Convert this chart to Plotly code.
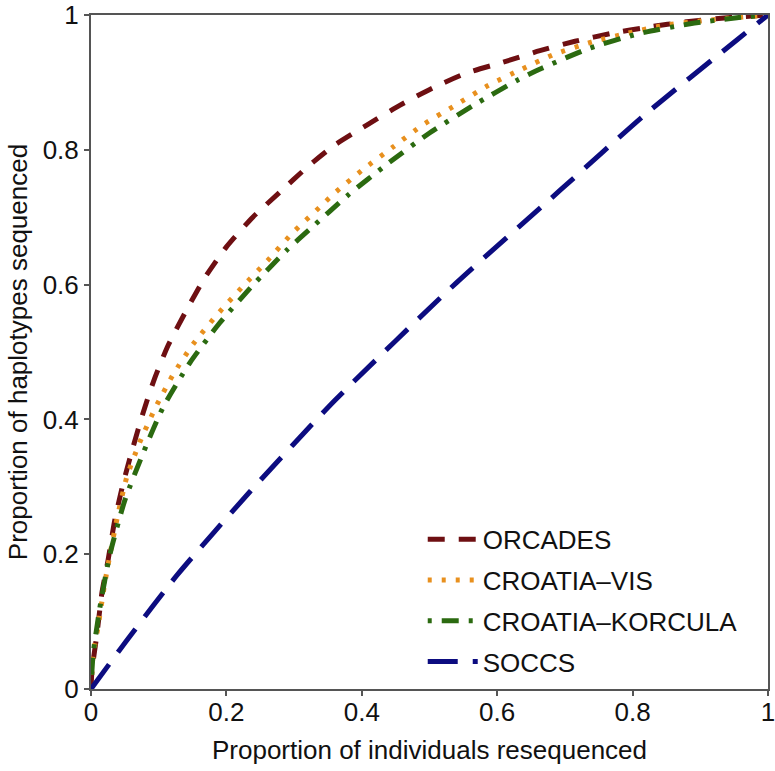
import plotly.graph_objects as go

# ORCADES
orc_x = [0, 0.0015, 0.009, 0.016, 0.025, 0.035, 0.047, 0.061, 0.077, 0.094, 0.114, 0.141, 0.168, 0.20, 0.239,
         0.28, 0.319, 0.36, 0.408, 0.456, 0.505, 0.555, 0.609, 0.663, 0.715, 0.77, 0.823, 0.88, 0.94, 1.0]
orc_y = [0, 0.028, 0.083, 0.142, 0.19, 0.25, 0.303, 0.355, 0.41, 0.461, 0.51, 0.562, 0.61, 0.656, 0.70,
         0.738, 0.774, 0.807, 0.837, 0.866, 0.892, 0.914, 0.930, 0.947, 0.961, 0.973, 0.982, 0.99, 0.996, 1.0]

# CROATIA-VIS
vis_x = [0, 0.003, 0.01, 0.02, 0.03, 0.04, 0.053, 0.072, 0.095, 0.121, 0.151, 0.186, 0.223, 0.261, 0.298,
         0.338, 0.36, 0.402, 0.446, 0.49, 0.538, 0.586, 0.637, 0.685, 0.74, 0.793, 0.848, 0.9, 0.95, 1.0]
vis_y = [0, 0.05, 0.09, 0.155, 0.21, 0.26, 0.315, 0.366, 0.417, 0.466, 0.512, 0.555, 0.596, 0.636, 0.677,
         0.715, 0.736, 0.771, 0.804, 0.837, 0.866, 0.895, 0.92, 0.942, 0.96, 0.973, 0.985, 0.991, 0.996, 1.0]

# CROATIA-KORCULA
kor_x = [0, 0.003, 0.013, 0.028, 0.05, 0.077, 0.106, 0.146, 0.19, 0.239, 0.289, 0.323, 0.38, 0.439, 0.5,
         0.565, 0.631, 0.666, 0.737, 0.808, 0.885, 0.954, 1.0]
kor_y = [0, 0.05, 0.12, 0.20, 0.28, 0.35, 0.417, 0.484, 0.543, 0.599, 0.651, 0.682, 0.733, 0.78, 0.825,
         0.866, 0.904, 0.921, 0.951, 0.972, 0.987, 0.996, 1.0]

# SOCCS
soc_x = [0, 0.055, 0.128, 0.235, 0.36, 0.54, 0.693, 0.818, 0.954, 1.0]
soc_y = [0, 0.075, 0.17, 0.293, 0.428, 0.603, 0.74, 0.852, 0.963, 1.0]

tick_vals = [0, 0.2, 0.4, 0.6, 0.8, 1]
tick_text = ["0", "0.2", "0.4", "0.6", "0.8", "1"]

series = [
    ("ORCADES", orc_x, orc_y, "#6e0f12", "17px,14px"),
    ("CROATIA\u2013VIS", vis_x, vis_y, "#e8901e", "4px,10px"),
    ("CROATIA\u2013KORCULA", kor_x, kor_y, "#2b6a10", "4px,10px,17px,10px"),
    ("SOCCS", soc_x, soc_y, "#0c0c80", "30px,15px"),
]

fig = go.Figure()
for i, (name, xs, ys, col, dash) in enumerate(series):
    fig.add_trace(go.Scatter(x=xs, y=ys, mode="lines", name=name, legendgroup=str(i),
                             line=dict(color=col, width=5, dash=dash, shape="spline", smoothing=0.6)))

axis_common = dict(range=[0, 1], tickvals=tick_vals, ticktext=tick_text, showgrid=False, zeroline=False,
                   showline=True, linecolor="#555555", linewidth=2, mirror=True,
                   ticks="outside", ticklen=5, tickwidth=2, tickcolor="#555555",
                   tickfont=dict(size=26, color="#111111"), automargin=False,
                   ticklabeloverflow="allow")

fig.update_layout(
    width=775, height=771,
    margin=dict(l=91, r=7, t=15, b=82),
    paper_bgcolor="white", plot_bgcolor="white",
    font=dict(family="Liberation Sans, Arial, sans-serif", color="#111111"),
    xaxis=dict(**axis_common, ticklabelstandoff=-6,
               title=dict(text="Proportion of individuals resequenced", font=dict(size=26), standoff=15)),
    yaxis=dict(**axis_common, title=dict(text="Proportion of haplotypes sequenced", font=dict(size=26), standoff=8)),
    legend=dict(x=0.49, y=0.257, xanchor="left", yanchor="top", bgcolor="rgba(0,0,0,0)",
                font=dict(size=26), tracegroupgap=4, traceorder="grouped", itemwidth=50),
    showlegend=True,
)

fig.write_html("out.html", config={"displayModeBar": False},
               post_script="document.body.style.margin='0';")
